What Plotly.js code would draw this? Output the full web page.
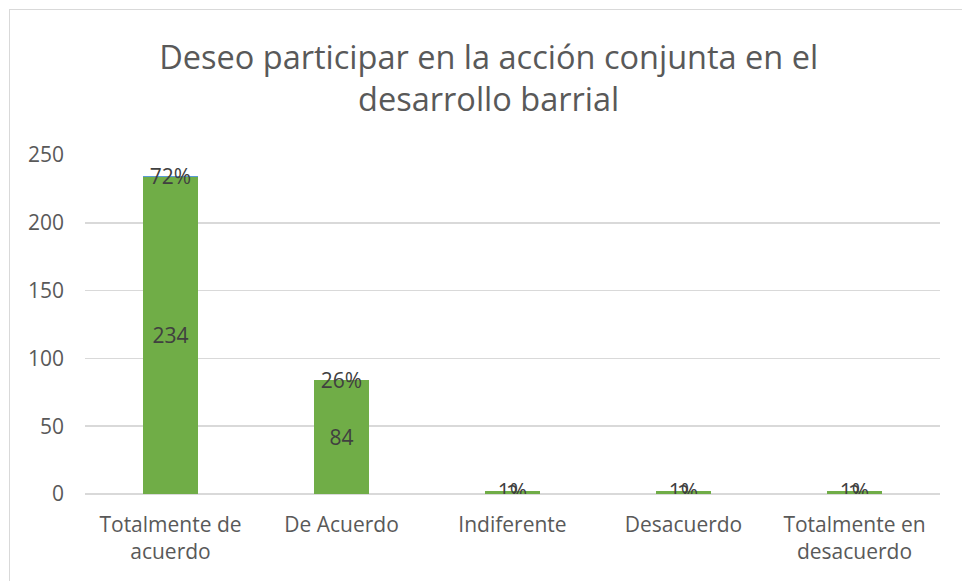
<!DOCTYPE html>
<html>
<head>
<meta charset="utf-8">
<script src="https://cdn.plot.ly/plotly-3.0.1.min.js"></script>
<style>
  html, body { margin: 0; padding: 0; background: #fff; overflow: hidden; }
  #wrap { position: relative; width: 962px; height: 581px; }
  #chart { width: 962px; height: 581px; }
  #frame { position: absolute; left: 9px; top: 9px; width: 1100px; height: 1100px;
           border: 1.5px solid #d9d9d9; pointer-events: none; box-sizing: border-box; }
</style>
</head>
<body>
<div id="wrap">
  <div id="chart"></div>
  <div id="frame"></div>
</div>
<script>
const categories = ["Totalmente de<br>acuerdo", "De Acuerdo", "Indiferente", "Desacuerdo", "Totalmente en<br>desacuerdo"];
const counts = [234, 84, 2, 2, 2];
const percents = [0.72, 0.26, 0.01, 0.01, 0.01];
const percentLabels = ["72%", "26%", "1%", "1%", "1%"];
const yTicks = [0, 50, 100, 150, 200, 250];

const font = "Open Sans, Lato, sans-serif";

const countTrace = {
  type: "bar",
  x: categories,
  y: counts,
  marker: { color: "#70AD47" },
  text: counts.map(String),
  textposition: "inside",
  insidetextanchor: "middle",
  textangle: 0,
  constraintext: "none",
  textfont: { family: font, size: 21, color: "#404040" },
  hoverinfo: "x+y",
  showlegend: false
};

const pctTrace = {
  type: "bar",
  x: categories,
  y: percents,
  marker: { color: "#5B9BD5" },
  text: percentLabels,
  textposition: "inside",
  insidetextanchor: "middle",
  textangle: 0,
  constraintext: "none",
  textfont: { family: font, size: 21, color: "#404040" },
  hoverinfo: "x+text",
  showlegend: false
};

const layout = {
  width: 962,
  height: 581,
  paper_bgcolor: "#ffffff",
  plot_bgcolor: "#ffffff",
  barmode: "stack",
  bargap: 0.684,
  margin: { l: 85, r: 22, t: 155, b: 87 },
  title: {
    text: "Deseo participar en la acción conjunta en el<br>desarrollo barrial",
    font: { family: font, size: 32.5, color: "#595959" },
    x: 0.508,
    xanchor: "center",
    y: 1 - 69 / 581,
    yanchor: "middle",
    yref: "container"
  },
  xaxis: {
    type: "category",
    showgrid: false,
    showline: false,
    ticks: "",
    ticklabelstandoff: 16,
    tickfont: { family: font, size: 21, color: "#595959" }
  },
  yaxis: {
    range: [0, 250],
    tickvals: yTicks,
    ticktext: yTicks.map(String),
    showgrid: true,
    gridcolor: "#d9d9d9",
    gridwidth: 1.5,
    zeroline: true,
    zerolinecolor: "#d9d9d9",
    zerolinewidth: 1.5,
    showline: false,
    ticks: "",
    ticklabelstandoff: 20,
    tickfont: { family: font, size: 21, color: "#595959" }
  }
};

Plotly.newPlot("chart", [countTrace, pctTrace], layout, { displayModeBar: false, staticPlot: true });
</script>
</body>
</html>
